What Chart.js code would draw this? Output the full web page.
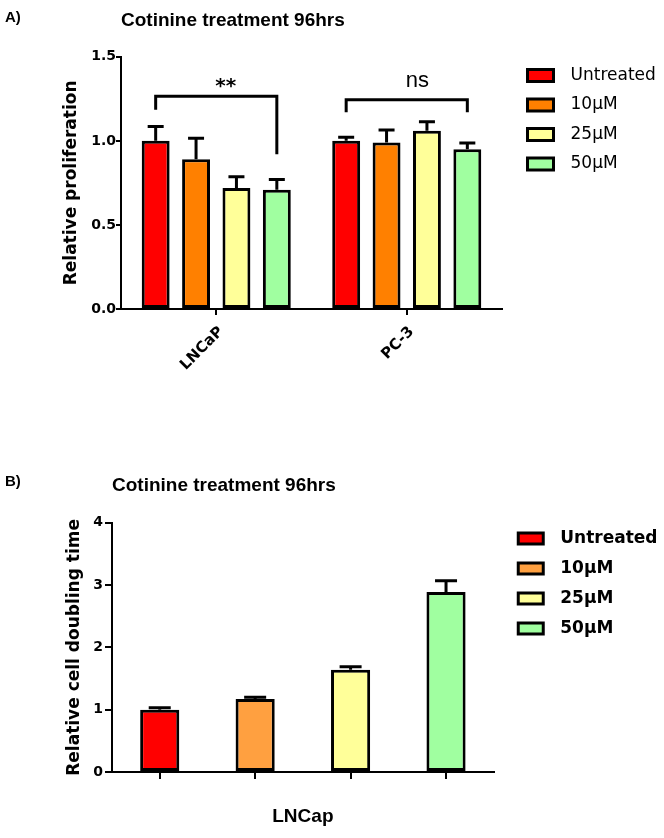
<!DOCTYPE html>
<html>
<head>
<meta charset="utf-8">
<script src="https://cdn.jsdelivr.net/npm/chart.js@4.4.1/dist/chart.umd.min.js"></script>
<style>
  body { margin: 0; background: #fff; }
  #wrapA { position: absolute; left: 0; top: 0; }
  #wrapB { position: absolute; left: 0; top: 430px; }
</style>
</head>
<body>
<div id="wrapA"><canvas id="chartA" width="664" height="430"></canvas></div>
<div id="wrapB"><canvas id="chartB" width="664" height="408"></canvas></div>
<script>
// ---- panel A: relative proliferation after 96 hrs ----
var cellLines = ['LNCaP', 'PC-3'];
var treatments = ['Untreated', '10μM', '25μM', '50μM'];
var untreatedA = [1.00, 1.00];
var tenA = [0.89, 0.99];
var twentyFiveA = [0.72, 1.06];
var fiftyA = [0.71, 0.95];
var untreatedErrA = [0.086, 0.022];
var tenErrA = [0.125, 0.075];
var twentyFiveErrA = [0.066, 0.054];
var fiftyErrA = [0.060, 0.038];
var yTicksA = [0, 0.5, 1.0, 1.5];
// significance brackets (one per cell line)
var sigText = ['**', 'ns'];
var sigTop = [1.265, 1.245];
var sigLeftEnd = [1.185, 1.17];
var sigRightEnd = [0.92, 1.17];

// ---- panel B: relative cell doubling time, LNCap ----
var doublingMean = [1.00, 1.17, 1.64, 2.89];
var doublingErr = [0.03, 0.03, 0.05, 0.18];
var yTicksB = [0, 1, 2, 3, 4];

var colorsA = ['#ff0000', '#ff8000', '#ffff99', '#a0ffa0'];
var colorsB = ['#ff0000', '#ffa040', '#ffff99', '#a0ffa0'];

var tickFont = { family: 'DejaVu Sans', weight: 'bold', size: 14 };
var axisTitleFont = { family: 'DejaVu Sans', weight: 'bold', size: 17 };
var titleFont = { family: 'Liberation Sans', weight: 'bold', size: 19 };

// error bars (upper only, like the original)
var errorBars = {
  id: 'errorBars',
  afterDatasetsDraw: function(chart, args, opts) {
    var ctx = chart.ctx, yScale = chart.scales.y;
    ctx.save();
    ctx.strokeStyle = '#000';
    ctx.lineWidth = opts.width;
    chart.data.datasets.forEach(function(ds, i) {
      chart.getDatasetMeta(i).data.forEach(function(bar, j) {
        var yTop = yScale.getPixelForValue(ds.data[j] + ds.errors[j]);
        ctx.beginPath();
        ctx.moveTo(bar.x, bar.y);
        ctx.lineTo(bar.x, yTop);
        ctx.moveTo(bar.x - opts.cap, yTop);
        ctx.lineTo(bar.x + opts.cap, yTop);
        ctx.stroke();
      });
    });
    ctx.restore();
  }
};

var brackets = {
  id: 'brackets',
  afterDatasetsDraw: function(chart, args, opts) {
    var ctx = chart.ctx, y = chart.scales.y;
    var n = chart.data.datasets.length;
    var first = chart.getDatasetMeta(0).data;
    var last = chart.getDatasetMeta(n - 1).data;
    ctx.save();
    ctx.strokeStyle = '#000';
    ctx.fillStyle = '#000';
    ctx.lineWidth = 3;
    sigText.forEach(function(t, k) {
      var x1 = first[k].x, x2 = last[k].x;
      var yt = y.getPixelForValue(sigTop[k]);
      ctx.beginPath();
      ctx.moveTo(x1, y.getPixelForValue(sigLeftEnd[k]));
      ctx.lineTo(x1, yt);
      ctx.lineTo(x2, yt);
      ctx.lineTo(x2, y.getPixelForValue(sigRightEnd[k]));
      ctx.stroke();
      ctx.font = opts.fonts[k];
      ctx.textAlign = 'left';
      ctx.textBaseline = 'alphabetic';
      var m = ctx.measureText(t);
      ctx.fillText(t, (x1 + x2) / 2 - 1, yt - opts.gaps[k] - m.actualBoundingBoxDescent);
    });
    ctx.restore();
  }
};

// move the legend block off the plot a little (layout puts it flush)
var legendNudge = {
  id: 'legendNudge',
  afterLayout: function(chart, args, opts) {
    var lg = chart.legend;
    lg.left += opts.dx;
    lg.right = chart.width;   // legend clips to its box, keep text whole
    lg.top += opts.dy; lg.bottom += opts.dy;
  }
};

var panelTag = {
  id: 'panelTag',
  afterDraw: function(chart, args, opts) {
    var ctx = chart.ctx;
    ctx.save();
    ctx.font = 'bold 15px "Liberation Sans"';
    ctx.fillStyle = '#000';
    ctx.textBaseline = 'middle';
    ctx.fillText(opts.text, opts.x, opts.y);
    ctx.restore();
  }
};

function barSet(label, data, errors, color) {
  return {
    label: label, data: data, errors: errors,
    backgroundColor: color, borderColor: '#000', borderWidth: 3, borderSkipped: false
  };
}

function spacedLabels(chart) {
  return Chart.defaults.plugins.legend.labels.generateLabels(chart).map(function(it) {
    it.text = '\u2002' + it.text;
    it.lineWidth = 3;
    it.strokeStyle = '#000';
    return it;
  });
}

var chartA = new Chart(document.getElementById('chartA'), {
  type: 'bar',
  data: {
    labels: cellLines,
    datasets: [
      barSet(treatments[0], untreatedA, untreatedErrA, colorsA[0]),
      barSet(treatments[1], tenA, tenErrA, colorsA[1]),
      barSet(treatments[2], twentyFiveA, twentyFiveErrA, colorsA[2]),
      barSet(treatments[3], fiftyA, fiftyErrA, colorsA[3])
    ]
  },
  options: {
    responsive: false,
    animation: false,
    layout: { padding: { left: 61, right: 15, top: 0, bottom: 0 } },
    datasets: { bar: { categoryPercentage: 0.848, barPercentage: 0.691 } },
    scales: {
      x: {
        grid: { drawOnChartArea: false, offset: false, tickLength: 6, color: '#000', lineWidth: 2 },
        border: { color: '#000', width: 2 },
        ticks: {
          minRotation: 45, maxRotation: 45, labelOffset: 5, padding: 8,
          font: { family: 'DejaVu Sans', weight: 'bold', size: 15 }, color: '#000'
        },
        afterFit: function(s) { s.height = 121; }
      },
      y: {
        min: 0, max: 1.5,
        afterBuildTicks: function(s) { s.ticks = yTicksA.map(function(v) { return { value: v }; }); },
        ticks: { font: tickFont, color: '#000', padding: 0, callback: function(v) { return v.toFixed(1); } },
        grid: { drawOnChartArea: false, tickLength: 5, color: '#000', lineWidth: 2 },
        border: { color: '#000', width: 2 },
        title: { display: true, text: 'Relative proliferation', font: axisTitleFont, color: '#000', padding: { top: 0, bottom: 0 } },
        afterFit: function(s) { s.width = 60; }
      }
    },
    plugins: {
      title: {
        display: true, text: 'Cotinine treatment 96hrs', align: 'start', fullSize: false,
        font: titleFont, color: '#000', padding: { top: 9, bottom: 25 }
      },
      legend: {
        position: 'right', align: 'start',
        labels: {
          boxWidth: 26, boxHeight: 12, padding: 12.5, color: '#000',
          font: { family: 'DejaVu Sans', size: 17 },
          generateLabels: spacedLabels
        }
      },
      tooltip: { enabled: false },
      errorBars: { width: 3, cap: 8 },
      brackets: { fonts: ['bold 20px "DejaVu Sans"', '22px "Liberation Sans"'], gaps: [8, 13] },
      legendNudge: { dx: 13, dy: 54.5 },
      panelTag: { text: 'A)', x: 5, y: 18 }
    }
  },
  plugins: [errorBars, brackets, legendNudge, panelTag]
});

var chartB = new Chart(document.getElementById('chartB'), {
  type: 'bar',
  data: {
    labels: treatments,
    datasets: [{
      label: 'LNCap', data: doublingMean, errors: doublingErr,
      backgroundColor: colorsB, borderColor: '#000', borderWidth: 3, borderSkipped: false,
      categoryPercentage: 1, barPercentage: 0.41
    }]
  },
  options: {
    responsive: false,
    animation: false,
    layout: { padding: { left: 64, right: 27, top: 0, bottom: 0 } },
    scales: {
      x: {
        grid: { drawOnChartArea: false, offset: false, tickLength: 7, color: '#000', lineWidth: 2 },
        border: { color: '#000', width: 2 },
        ticks: { display: false },
        title: { display: true, text: 'LNCap', font: titleFont, color: '#000', padding: { top: 0, bottom: 10 } },
        afterFit: function(s) { s.height = 66; }
      },
      y: {
        min: 0, max: 4,
        afterBuildTicks: function(s) { s.ticks = yTicksB.map(function(v) { return { value: v }; }); },
        ticks: { font: tickFont, color: '#000', padding: 2 },
        grid: { drawOnChartArea: false, tickLength: 7, color: '#000', lineWidth: 2 },
        border: { color: '#000', width: 2 },
        title: { display: true, text: 'Relative cell doubling time', font: axisTitleFont, color: '#000', padding: { top: 0, bottom: 0 } },
        afterFit: function(s) { s.width = 48; }
      }
    },
    plugins: {
      title: {
        display: true, text: 'Cotinine treatment 96hrs', align: 'start', fullSize: false,
        font: titleFont, color: '#000', padding: { top: 44, bottom: 26 }
      },
      legend: {
        position: 'right', align: 'start',
        labels: {
          boxWidth: 25, boxHeight: 11, padding: 13, color: '#000',
          font: { family: 'DejaVu Sans', weight: 'bold', size: 17 },
          generateLabels: function(chart) {
            var ds = chart.data.datasets[0];
            return chart.data.labels.map(function(lab, i) {
              return { text: '\u2002' + lab, fillStyle: ds.backgroundColor[i], strokeStyle: '#000',
                       lineWidth: 3, hidden: false, index: i, datasetIndex: 0 };
            });
          }
        }
      },
      tooltip: { enabled: false },
      errorBars: { width: 3, cap: 11 },
      legendNudge: { dx: 11.5, dy: 87 },
      panelTag: { text: 'B)', x: 5, y: 52 }
    }
  },
  plugins: [errorBars, legendNudge, panelTag]
});
</script>
</body>
</html>
